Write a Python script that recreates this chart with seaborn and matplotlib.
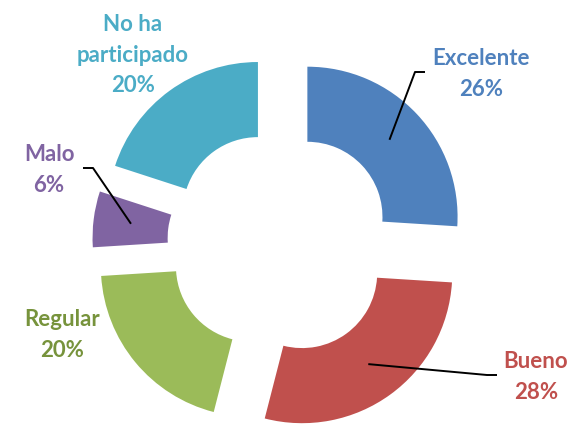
import numpy as np
import matplotlib
matplotlib.use("Agg")
import matplotlib.pyplot as plt
import seaborn as sns

# ======================
# data
categories = ["Excelente", "Bueno", "Regular", "Malo", "No ha\nparticipado"]
shares = [26, 28, 20, 6, 20]
slice_colors = ["#4F81BD", "#C0504D", "#9BBB59", "#8064A2", "#4BACC6"]
text_colors = ["#4F81BD", "#C0504D", "#77933C", "#8064A2", "#4BACC6"]

# label placement (image pixels, origin top-left) and which ones get a leader line
label_pos = [(481, 74), (536, 377), (62, 335), (49, 170), (133, 55)]
leader_anchor = [(425, 72), (497, 375), None, (83, 168), None]
leader_dir = [-1, -1, 0, 1, 0]   # which way the short horizontal tick goes

# ======================
W, H = 570, 425
cx, cy = 280, 242.6     # centre of the (unexploded) ring in pixels
S = 150.2               # outer radius in pixels


def px(x, y):
    # image pixels -> data units (radius = 1)
    return (x - cx) / S, (cy - y) / S


sns.set_style("white")
plt.rcParams['font.family'] = ['Lato', 'DejaVu Sans']

fig = plt.figure(figsize=(W / 100, H / 100), dpi=100)
ax = fig.add_axes([0, 0, 1, 1])

wedges, _ = ax.pie(shares, colors=sns.color_palette(slice_colors),
                   startangle=90, counterclock=False,
                   explode=[0.25] * len(shares), radius=1,
                   wedgeprops=dict(width=0.5, linewidth=0))

for i, w in enumerate(wedges):
    pct = "{:d}%".format(round(100 * shares[i] / sum(shares)))
    tx, ty = px(*label_pos[i])
    ax.text(tx, ty, categories[i] + "\n" + pct, ha="center", va="center",
            multialignment="center", color=text_colors[i],
            fontsize=16, fontweight="bold", linespacing=1.55)

    if leader_anchor[i] is not None:
        # leader ends in the middle of the wedge
        mid = np.deg2rad((w.theta1 + w.theta2) / 2)
        rm = w.r - w.width / 2
        ex = w.center[0] + rm * np.cos(mid)
        ey = w.center[1] + rm * np.sin(mid)
        ax0, ay0 = px(*leader_anchor[i])
        kx = ax0 + leader_dir[i] * 10 / S
        ax.plot([ax0, kx, ex], [ay0, ay0, ey], color="black", lw=1.4,
                solid_capstyle="butt")

ax.set_xlim(px(0, 0)[0], px(W, 0)[0])
ax.set_ylim(px(0, H)[1], px(0, 0)[1])
ax.set_aspect("equal")
ax.axis("off")

plt.savefig("out.png", dpi=100, facecolor="white")
plt.close()
